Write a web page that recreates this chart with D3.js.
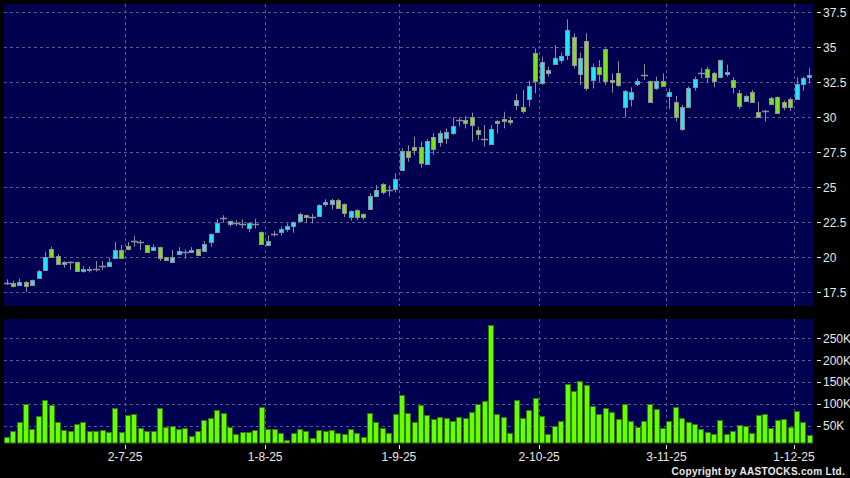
<!DOCTYPE html>
<html><head><meta charset="utf-8">
<script src="https://cdn.jsdelivr.net/npm/d3@7"></script>
<style>body{margin:0;background:#000;} svg{display:block;}</style>
</head><body>
<svg id="c" width="850" height="478"></svg>
<script>
// ---- DATA ----
const dates = [
"4-6-25","5-6-25","6-6-25","9-6-25","10-6-25","11-6-25","12-6-25","13-6-25","16-6-25","17-6-25","18-6-25","19-6-25","20-6-25","23-6-25","24-6-25","25-6-25","26-6-25","27-6-25","30-6-25",
"2-7-25","3-7-25","4-7-25","7-7-25","8-7-25","9-7-25","10-7-25","11-7-25","14-7-25","15-7-25","16-7-25","17-7-25","18-7-25","21-7-25","22-7-25","23-7-25","24-7-25","25-7-25","28-7-25","29-7-25","30-7-25","31-7-25",
"1-8-25","4-8-25","5-8-25","6-8-25","7-8-25","8-8-25","11-8-25","12-8-25","13-8-25","14-8-25","15-8-25","18-8-25","19-8-25","20-8-25","21-8-25","22-8-25","25-8-25","26-8-25","27-8-25","28-8-25","29-8-25",
"1-9-25","2-9-25","3-9-25","4-9-25","5-9-25","8-9-25","9-9-25","10-9-25","11-9-25","12-9-25","15-9-25","16-9-25","17-9-25","18-9-25","19-9-25","22-9-25","23-9-25","24-9-25","25-9-25","26-9-25","29-9-25","30-9-25",
"2-10-25","3-10-25","6-10-25","8-10-25","9-10-25","10-10-25","13-10-25","14-10-25","15-10-25","16-10-25","17-10-25","20-10-25","21-10-25","22-10-25","23-10-25","24-10-25","27-10-25","28-10-25","30-10-25","31-10-25",
"3-11-25","4-11-25","5-11-25","6-11-25","7-11-25","10-11-25","11-11-25","12-11-25","13-11-25","14-11-25","17-11-25","18-11-25","19-11-25","20-11-25","21-11-25","24-11-25","25-11-25","26-11-25","27-11-25","28-11-25",
"1-12-25","2-12-25","3-12-25"];

const open = [18.15,18.2,18.05,18.25,18.02,18.5,19.06,20.56,20.07,19.55,19.68,19.68,19.0,19.07,19.2,19.4,19.4,19.92,20.54,
20.8,21.16,21.06,20.85,20.5,20.71,19.99,19.68,20.21,20.37,20.35,20.56,20.47,21.12,21.79,22.79,22.36,22.45,22.41,22.07,22.36,21.79,
20.86,21.67,21.79,22.0,22.26,22.57,23.0,22.86,22.98,23.79,23.79,24.07,23.79,22.91,23.38,23.1,23.48,24.36,25.22,24.79,24.91,
26.24,27.62,27.88,27.9,26.64,28.62,28.26,28.5,28.86,29.8,29.8,30.0,29.1,28.42,28.07,29.71,29.85,29.8,30.85,30.71,31.33,34.56,
32.42,33.14,33.78,34.06,34.45,35.76,33.06,35.42,32.66,33.56,34.85,32.66,33.14,30.76,31.28,32.38,33.03,32.58,32.12,32.58,
31.55,31.09,29.19,30.76,32.14,33.19,33.42,33.14,32.85,33.1,32.66,31.71,31.19,31.78,30.38,30.47,31.35,31.42,31.09,31.28,
31.28,32.4,32.85];
const high = [18.42,18.33,18.47,18.3,18.4,19.1,20.4,20.76,20.23,19.72,19.72,19.7,19.37,19.35,19.73,19.73,19.97,21.1,20.87,
21.1,21.52,21.23,20.9,20.92,20.75,20.02,20.52,20.73,20.56,20.73,20.6,21.16,21.7,22.72,23.0,22.62,22.67,22.72,22.5,22.76,21.85,
21.57,21.88,22.19,22.43,22.57,23.19,23.05,23.1,23.78,24.14,24.17,24.17,23.85,23.35,23.42,23.14,24.57,25.17,25.29,25.14,26.0,
27.79,28.0,28.6,28.26,28.43,28.86,29.05,29.2,30.0,30.0,30.1,30.33,29.33,29.45,29.45,29.8,30.4,30.04,31.66,31.95,32.61,34.92,
34.33,33.61,35.16,34.61,37.0,36.0,34.61,36.0,33.85,34.09,34.92,33.14,34.02,31.95,32.14,32.78,33.8,32.62,32.9,33.14,
32.05,31.52,30.88,32.2,32.9,33.5,33.62,33.26,34.07,33.76,32.85,31.95,31.6,31.95,31.12,30.52,31.45,31.5,31.2,31.42,
32.85,32.9,33.5];
const low = [18.02,17.85,17.99,17.5,17.98,18.45,19.0,19.98,19.45,19.26,19.11,18.98,18.9,18.92,18.97,19.11,19.35,19.88,19.9,
20.5,20.76,20.52,20.3,20.45,19.73,19.75,19.65,20.18,19.92,20.3,20.1,20.42,20.76,21.75,22.48,22.19,22.24,22.07,21.79,22.05,20.9,
20.83,21.48,21.55,21.83,21.76,22.5,22.43,22.43,22.93,23.62,23.43,23.45,22.86,22.62,22.67,22.67,23.43,24.3,24.5,24.34,24.62,
26.2,26.83,27.3,26.41,26.6,27.31,27.9,28.1,28.75,29.35,29.2,28.26,28.38,27.9,28.02,28.85,29.21,29.45,30.52,30.28,30.76,31.71,
32.3,32.9,33.73,33.85,34.09,33.49,32.3,31.9,32.06,32.54,32.3,31.76,32.18,30.0,30.76,32.23,32.66,31.06,31.95,32.23,
30.6,29.72,29.04,30.68,31.9,32.78,32.47,32.14,32.8,32.9,31.71,30.57,31.1,31.05,30.0,29.69,30.85,30.25,30.5,30.45,
31.25,31.9,32.42];
const close = [18.15,17.95,18.25,17.97,18.35,19.05,19.99,20.02,19.5,19.68,19.68,19.02,19.13,19.2,19.2,19.4,19.63,20.49,19.97,
20.58,21.16,21.06,20.35,20.73,19.97,19.8,20.02,20.42,20.37,20.49,20.16,20.92,21.64,22.43,22.79,22.57,22.45,22.41,22.43,22.36,20.93,
21.14,21.67,22.0,22.24,22.53,23.07,22.86,22.86,23.72,23.95,24.1,23.5,23.14,23.31,22.91,22.86,24.38,24.81,24.69,24.79,25.57,
27.6,27.14,27.64,26.72,28.29,27.76,28.86,28.97,29.35,29.8,29.56,29.42,28.78,28.42,29.16,29.56,29.72,29.66,31.23,30.42,32.21,32.61,
33.92,33.35,34.21,34.35,36.21,33.71,34.26,32.06,33.56,33.06,32.61,32.49,32.33,31.87,31.8,32.59,33.03,31.1,32.58,32.27,
31.8,30.04,30.76,32.07,32.71,33.19,32.85,32.62,34.07,33.2,32.14,30.81,31.52,31.12,30.0,30.47,30.92,30.28,30.71,30.71,
32.35,32.8,33.04];
// volume in thousands of shares
const volume = [25.5,38.5,58,99,43,73,109,98,60,41,39,54,58,38.5,38.5,41,36,91,37,
76,77,45,38,38.5,91,48,49.5,43,44.5,27,39,63,68,87,80,47,32,37,37,40,92.5,
42,42,35,18,33,42,38,22,40,38,41,33,31,42,35,24,80,58,45,35,76.5,
120.5,80,58,97,74,66,71,69,62,69.7,68,81,101,108,279.6,76.5,71,35,110,68,87,114.5,
73.5,31,50.6,60.6,145,130.5,153,142.7,95.5,78,91.7,81,66,101,61.3,47,62,101,88.7,45.4,
62,92.5,69,59,54.5,43,35.5,31.7,63,31.7,37.8,51.5,50.6,33,74,77,46,64,66.6,47,
85,59.8,30];
const priceTicks = [17.5,20,22.5,25,27.5,30,32.5,35,37.5];
const volumeTicks = [50,100,150,200,250];
const xTickLabels = ["2-7-25","1-8-25","1-9-25","2-10-25","3-11-25","1-12-25"];

// ---- LAYOUT ----
const svg = d3.select("#c");
const plotL = 4, plotR = 813;
const pTop = 4, pBot = 306;
const vTop = 319, vBot = 443;
const navy = "#000050";
const gridCol = "#5a5a8c";
const txtCol = "#e8e8e8";
const upCol = "#22e6f6", downCol = "#7ee01e", edgeCol = "#8c8c9c";

svg.append("rect").attr("width",850).attr("height",478).attr("fill","#000");
svg.append("rect").attr("x",plotL).attr("y",pTop).attr("width",plotR-plotL).attr("height",pBot-pTop).attr("fill",navy);
svg.append("rect").attr("x",plotL).attr("y",vTop).attr("width",plotR-plotL).attr("height",vBot-vTop).attr("fill",navy);

const x = d3.scaleBand().domain(dates).range([plotL, plotR]).padding(0);
const bw = x.bandwidth();
const y = d3.scaleLinear().domain([17.5, 37.5]).range([292.3, 12.3]);
const yv = d3.scaleLinear().domain([0, 250]).range([447.9, 338.3]);
const cx = d => Math.floor(x(d) + bw/2) + 0.5;
const py = v => Math.round(y(v)) + 0.5;

// grid
const g = svg.append("g");
g.selectAll(".hp").data(priceTicks).join("line")
  .attr("x1",plotL).attr("x2",plotR)
  .attr("y1",d=>py(d)).attr("y2",d=>py(d))
  .attr("stroke",gridCol).attr("stroke-dasharray","3,3");
g.selectAll(".hv").data(volumeTicks).join("line")
  .attr("x1",plotL).attr("x2",plotR)
  .attr("y1",d=>Math.round(yv(d))+0.5).attr("y2",d=>Math.round(yv(d))+0.5)
  .attr("stroke",gridCol).attr("stroke-dasharray","3,3");
const vx = d => Math.round(x(d)) + 0.5;
[[pTop,pBot],[vTop,vBot]].forEach(([t,b])=>{
  g.selectAll(null).data(xTickLabels).join("line")
    .attr("x1",vx).attr("x2",vx).attr("y1",t).attr("y2",b)
    .attr("stroke",gridCol).attr("stroke-dasharray","3,3");
});

// candles
const idx = d3.range(dates.length);
const cg = svg.append("g");
cg.selectAll(".wick").data(idx).join("line")
  .attr("x1",i=>cx(dates[i])).attr("x2",i=>cx(dates[i]))
  .attr("y1",i=>y(high[i])).attr("y2",i=>y(low[i]))
  .attr("stroke",edgeCol).attr("stroke-width",1);
cg.selectAll(".body").data(idx.filter(i=>open[i]!==close[i])).join("rect")
  .attr("x",i=>cx(dates[i])-2).attr("width",4)
  .attr("y",i=>py(Math.max(open[i],close[i])))
  .attr("height",i=>Math.max(1, py(Math.min(open[i],close[i])) - py(Math.max(open[i],close[i]))))
  .attr("fill",i=>close[i]>open[i]?upCol:downCol)
  .attr("stroke",edgeCol).attr("stroke-width",1);
cg.selectAll(".doji").data(idx.filter(i=>open[i]===close[i])).join("line")
  .attr("x1",i=>cx(dates[i])-3.5).attr("x2",i=>cx(dates[i])+3.5)
  .attr("y1",i=>py(open[i])).attr("y2",i=>py(open[i]))
  .attr("stroke",edgeCol).attr("stroke-width",1.5);

// volume
svg.append("g").selectAll("rect").data(idx).join("rect")
  .attr("x",i=>Math.round(x(dates[i]))+0.5).attr("width",5)
  .attr("y",i=>Math.round(yv(volume[i]))+0.5)
  .attr("height",i=>Math.max(0, vBot - Math.round(yv(volume[i])) - 0.5))
  .attr("fill","#66ff00").attr("stroke","#2f7a00").attr("stroke-width",1);

// right axes
const font = "'Liberation Sans', Arial, sans-serif";
const pa = svg.append("g").attr("font-family",font).attr("font-size",12).attr("fill",txtCol);
pa.selectAll("line").data(priceTicks).join("line")
  .attr("x1",817).attr("x2",821).attr("y1",d=>py(d)).attr("y2",d=>py(d)).attr("stroke",txtCol);
pa.selectAll("text").data(priceTicks).join("text")
  .attr("x",823).attr("y",d=>y(d)).attr("dy","0.36em").text(d=>d);
const va = svg.append("g").attr("font-family",font).attr("font-size",12).attr("fill",txtCol);
va.selectAll("line").data(volumeTicks).join("line")
  .attr("x1",817).attr("x2",821).attr("y1",d=>Math.round(yv(d))+0.5).attr("y2",d=>Math.round(yv(d))+0.5).attr("stroke",txtCol);
va.selectAll("text").data(volumeTicks).join("text")
  .attr("x",823).attr("y",d=>yv(d)).attr("dy","0.36em").text(d=>d+"K");

// x axis
const xa = svg.append("g").attr("font-family",font).attr("font-size",12).attr("fill",txtCol);
xa.selectAll("line").data(xTickLabels).join("line")
  .attr("x1",vx).attr("x2",vx).attr("y1",445).attr("y2",449).attr("stroke",txtCol);
xa.selectAll("text").data(xTickLabels).join("text")
  .attr("x",d=>x(d)).attr("y",461).attr("text-anchor","middle").text(d=>d);

svg.append("text").attr("x",845).attr("y",475).attr("text-anchor","end")
  .attr("font-family",font).attr("font-size",10).attr("font-weight","bold")
  .attr("letter-spacing","0.3")
  .attr("fill",txtCol).text("Copyright by AASTOCKS.com Ltd.");
</script>
</body></html>
